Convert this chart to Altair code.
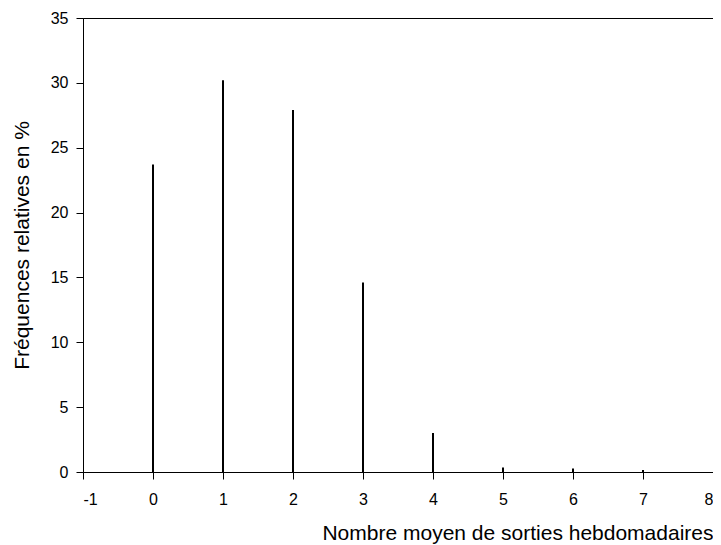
import altair as alt
import pandas as pd

sorties = [0, 1, 2, 3, 4, 5, 6, 7]
frequences = [23.7, 30.2, 27.9, 14.6, 3.0, 0.35, 0.27, 0.15]

df = pd.DataFrame({"x": sorties, "y": frequences, "y0": [0] * len(sorties)})

font = "Liberation Sans"

chart = alt.Chart(df).mark_rule(color="black", strokeWidth=2).encode(
    x=alt.X("x:Q", scale=alt.Scale(domain=[-1, 8], nice=False, zero=False),
            axis=alt.Axis(title="Nombre moyen de sorties hebdomadaires",
                          values=list(range(-1, 9)),
                          labelExpr="toString(datum.value)",
                          titleAnchor="end", titleAlign="right", titlePadding=15,
                          labelPadding=12)),
    y=alt.Y("y:Q", scale=alt.Scale(domain=[0, 35], nice=False),
            axis=alt.Axis(title="Fréquences relatives en %",
                          values=list(range(0, 36, 5)), titlePadding=18,
                          labelPadding=8)),
    y2="y0:Q",
).properties(
    width=630, height=454,
    autosize=alt.AutoSizeParams(type="none"),
    padding={"left": 75, "top": 10, "right": 0, "bottom": 73},
    background="white",
).configure_view(
    stroke="black", strokeWidth=1
).configure_axis(
    grid=False, domainColor="black", tickColor="black", tickSize=7,
    labelFont=font, titleFont=font, labelFontSize=16, titleFontSize=21,
    titleFontWeight="normal", labelColor="black", titleColor="black",
    domainWidth=1
)

chart.save("out.html", embed_options={"renderer": "svg", "actions": False})
